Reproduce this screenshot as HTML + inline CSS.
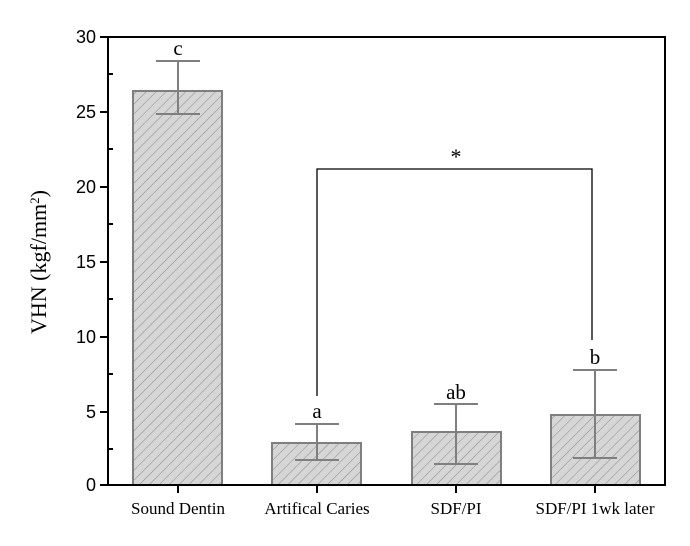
<!DOCTYPE html>
<html><head><style>body{margin:0;background:#fff}</style></head><body>
<svg width="690" height="541" xmlns="http://www.w3.org/2000/svg">
<defs>
<pattern id="h" patternUnits="userSpaceOnUse" width="7" height="7" patternTransform="rotate(45)">
<rect width="7" height="7" fill="#d6d6d6"/>
<line x1="0" y1="0" x2="0" y2="7" stroke="#8a8a8a" stroke-width="1"/>
</pattern>
</defs>
<g stroke="#7f7f7f" stroke-width="2" fill="url(#h)">
<rect x="133" y="91" width="89" height="394"/>
<rect x="272" y="443" width="89" height="42"/>
<rect x="412" y="432" width="89" height="53"/>
<rect x="551" y="415" width="89" height="70"/>
</g>
<g stroke="#7f7f7f" stroke-width="2" fill="none">
<path d="M178 61V114M156 61H200M156 114H200"/>
<path d="M317 424V460M295 424H339M295 460H339"/>
<path d="M456 404V464M434 404H478M434 464H478"/>
<path d="M595 370V458M573 370H617M573 458H617"/>
</g>
<path d="M317 396V169H592V340" stroke="#000" stroke-width="1.3" fill="none"/>
<rect x="108" y="37" width="557" height="448" fill="none" stroke="#000" stroke-width="2"/>
<g stroke="#000" stroke-width="2">
<path d="M100 37H108M100 112H108M100 187H108M100 262H108M100 337H108M100 412H108M100 485H108"/>
<path d="M108 74H113M108 149H113M108 224H113M108 299H113M108 374H113M108 449H113"/>
<path d="M178 485V493M317 485V493M456 485V493M595 485V493"/>
</g>
<g font-family="Liberation Sans, sans-serif" font-size="18" text-anchor="end" fill="#000">
<text x="96" y="43">30</text><text x="96" y="118">25</text><text x="96" y="193">20</text>
<text x="96" y="268">15</text><text x="96" y="343">10</text><text x="96" y="418">5</text><text x="96" y="491">0</text>
</g>
<g font-family="Liberation Serif, serif" font-size="17" text-anchor="middle" fill="#000">
<text x="178" y="514">Sound Dentin</text><text x="317" y="514">Artifical Caries</text>
<text x="456" y="514">SDF/PI</text><text x="595" y="514">SDF/PI 1wk later</text>
</g>
<g font-family="Liberation Serif, serif" font-size="21" text-anchor="middle" fill="#000">
<text x="178" y="55">c</text><text x="317" y="418">a</text><text x="456" y="399">ab</text><text x="595" y="364">b</text>
<text x="456" y="164" font-size="22">*</text>
</g>
<text transform="translate(46,262) rotate(-90)" font-family="Liberation Serif, serif" font-size="22" text-anchor="middle">VHN (kgf/mm<tspan dy="-7" font-size="13">2</tspan><tspan dy="7">)</tspan></text>
</svg>
</body></html>
